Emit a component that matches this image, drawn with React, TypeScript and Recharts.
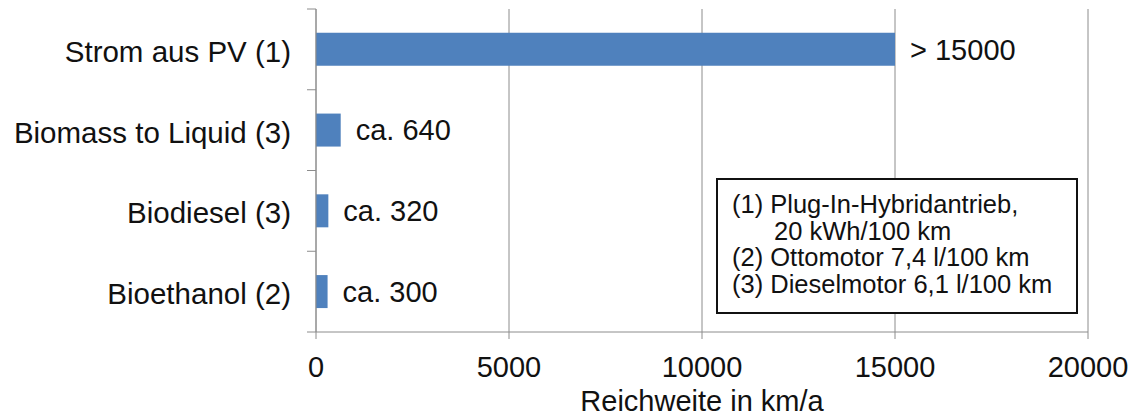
import React from "react";
import { BarChart, Bar, XAxis, YAxis, CartesianGrid, LabelList } from "recharts";

const categories = ["Strom aus PV (1)", "Biomass to Liquid (3)", "Biodiesel (3)", "Bioethanol (2)"];
const reichweite = [15000, 640, 320, 300];
const valueLabels = ["> 15000", "ca. 640", "ca. 320", "ca. 300"];
const xTicks = [0, 5000, 10000, 15000, 20000];
const legendLines = [
  "(1) Plug-In-Hybridantrieb,",
  "20 kWh/100 km",
  "(2) Ottomotor 7,4 l/100 km",
  "(3) Dieselmotor 6,1 l/100 km",
];

const FONT = "'Liberation Sans', Arial, sans-serif";
const GRID = "#8c8c8c";
const TICK_SIZE = 9;
const TICK_MARGIN = 16;

const data = categories.map((name, i) => ({
  name,
  value: reichweite[i],
  label: valueLabels[i],
}));

// category labels plus tick marks on the band boundaries (Excel style)
function CategoryTick({ x, y, payload, index }: any) {
  const half = payload?.offset ?? 0;
  const lx = x + TICK_MARGIN;
  const last = index === categories.length - 1;
  return (
    <g>
      <line x1={lx} x2={lx + TICK_SIZE} y1={y - half} y2={y - half} stroke={GRID} />
      {last && <line x1={lx} x2={lx + TICK_SIZE} y1={y + half} y2={y + half} stroke={GRID} />}
      <text x={x} y={y} dy="0.42em" textAnchor="end" fontSize={29.5} fill="#111" fontFamily={FONT}>
        {payload.value}
      </text>
    </g>
  );
}

export default function App() {
  return (
    <div style={{ position: "absolute", left: 0, top: 0, width: 1134, height: 418, background: "#fff" }}>
      <BarChart
        width={1134}
        height={418}
        layout="vertical"
        data={data}
        margin={{ top: 9, right: 46, left: 0, bottom: 0 }}
        barCategoryGap="29.5%"
      >
        <CartesianGrid stroke={GRID} horizontal={false} />
        <XAxis
          type="number"
          dataKey="value"
          domain={[0, 20000]}
          ticks={xTicks}
          height={86}
          stroke={GRID}
          tickSize={7}
          tickMargin={17}
          tick={{ fontSize: 29, fill: "#111", fontFamily: FONT }}
          label={{
            value: "Reichweite in km/a",
            position: "insideBottom",
            offset: 7,
            fontSize: 29,
            fill: "#111",
            fontFamily: FONT,
          }}
        />
        <XAxis
          xAxisId="top"
          orientation="top"
          type="number"
          domain={[0, 20000]}
          height={0}
          tick={false}
          tickLine={false}
          stroke={GRID}
        />
        <YAxis
          type="category"
          dataKey="name"
          width={316}
          stroke={GRID}
          tickLine={false}
          tickSize={TICK_SIZE}
          tickMargin={TICK_MARGIN}
          tick={<CategoryTick />}
          interval={0}
        />
        <Bar dataKey="value" fill="#4f81bd" isAnimationActive={false}>
          <LabelList
            dataKey="label"
            position="right"
            offset={15}
            fontSize={29}
            fill="#111"
            fontFamily={FONT}
          />
        </Bar>
      </BarChart>
      <div
        style={{
          position: "absolute",
          left: 716,
          top: 178,
          width: 362,
          height: 136,
          boxSizing: "border-box",
          border: "2px solid #111",
          background: "#fff",
          padding: "11px 0 0 14px",
          fontFamily: FONT,
          fontSize: 25.5,
          lineHeight: "26.5px",
          color: "#111",
          whiteSpace: "nowrap",
        }}
      >
        {legendLines.map((t, i) => (
          <div key={i} style={{ paddingLeft: i === 1 ? 42 : 0 }}>
            {t}
          </div>
        ))}
      </div>
    </div>
  );
}
